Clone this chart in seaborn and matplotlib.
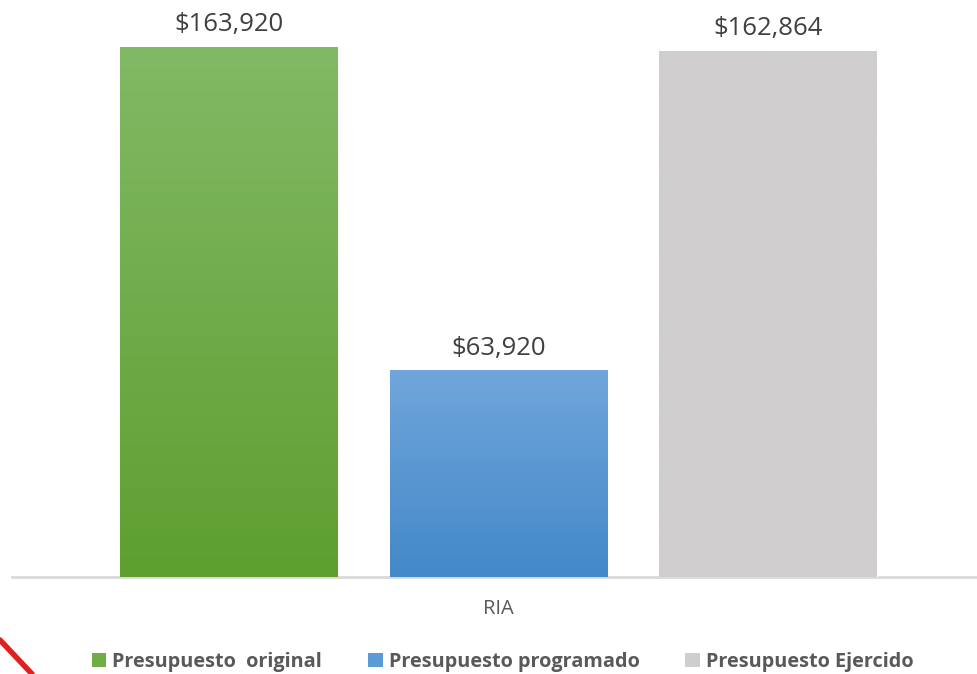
import numpy as np
import pandas as pd
import matplotlib
matplotlib.use("Agg")
import matplotlib.pyplot as plt
import seaborn as sns
from matplotlib.colors import LinearSegmentedColormap
from matplotlib.patches import Patch
from matplotlib.lines import Line2D
import matplotlib.patheffects as pe

# Datos del gráfico
categorias = ["RIA"]
series = ["Presupuesto  original", "Presupuesto programado", "Presupuesto Ejercido"]
valores = [163920, 63920, 162864]

# Colores (superior, inferior) para el degradado de cada barra
colores_leyenda = ["#70AD47", "#5B9BD5", "#CFCDCE"]
degradados = [("#82B965", "#5E9F30"), ("#70A6DB", "#4388C8"), ("#D0CECF", "#D0CECF")]

sns.set_theme(style="white")
plt.rcParams["font.family"] = ["Open Sans", "DejaVu Sans"]

df = pd.DataFrame({
    "categoria": categorias * len(series),
    "serie": series,
    "valor": valores,
})

fig = plt.figure(figsize=(9.78, 6.74), dpi=100)
ax = fig.add_axes([12 / 978, 1 - 577 / 674, 966 / 978, 577 / 674])

sns.barplot(data=df, x="categoria", y="valor", hue="serie",
            palette=colores_leyenda, width=0.838, gap=0.193,
            ax=ax, legend=False, zorder=2)

# degradado dentro de cada barra + sombra suave
for cont, (c_top, c_bot) in zip(ax.containers, degradados):
    for bar in cont:
        x0, y0 = bar.get_x(), bar.get_y()
        w, h = bar.get_width(), bar.get_height()
        bar.set_path_effects([pe.SimplePatchShadow(offset=(0, -2), shadow_rgbFace="#888888", alpha=0.35),
                              pe.Normal()])
        cmap = LinearSegmentedColormap.from_list("g", [c_bot, c_top])
        grad = np.linspace(0, 1, 256).reshape(-1, 1)
        im = ax.imshow(grad, extent=[x0, x0 + w, y0, y0 + h], origin="lower",
                       cmap=cmap, aspect="auto", zorder=2.5)
        im.set_clip_path(bar)

for cont, v in zip(ax.containers, valores):
    ax.bar_label(cont, labels=[f"${v:,.0f}"], padding=7, fontsize=18.5, color="#404040")

ax.set_xlim(-0.5035, 0.4965)
ax.set_ylim(0, 178500)
ax.set_xlabel("")
ax.set_ylabel("")
ax.set_yticks([])
for s in ["top", "left", "right"]:
    ax.spines[s].set_visible(False)
ax.spines["bottom"].set_color("#D9D9D9")
ax.spines["bottom"].set_linewidth(2)
ax.spines["bottom"].set_zorder(1)
ax.tick_params(axis="x", length=0, pad=16, labelsize=14.5, labelcolor="#595959")

handles = [Patch(facecolor=c, edgecolor="none") for c in colores_leyenda]
leg = fig.legend(handles, series, loc="center", bbox_to_anchor=(0.514, 1 - 662 / 674),
                 ncol=3, frameon=False, handlelength=0.75, handleheight=0.75,
                 handletextpad=0.3, columnspacing=2.3,
                 prop={"weight": "bold", "size": 14.3})
for t in leg.get_texts():
    t.set_color("#595959")

# trazo rojo en la esquina inferior izquierda
fig.add_artist(Line2D([0, 32 / 978], [1 - 640 / 674, 0], color="#E02020", lw=4,
                      transform=fig.transFigure))

fig.savefig("out.png", dpi=100)
